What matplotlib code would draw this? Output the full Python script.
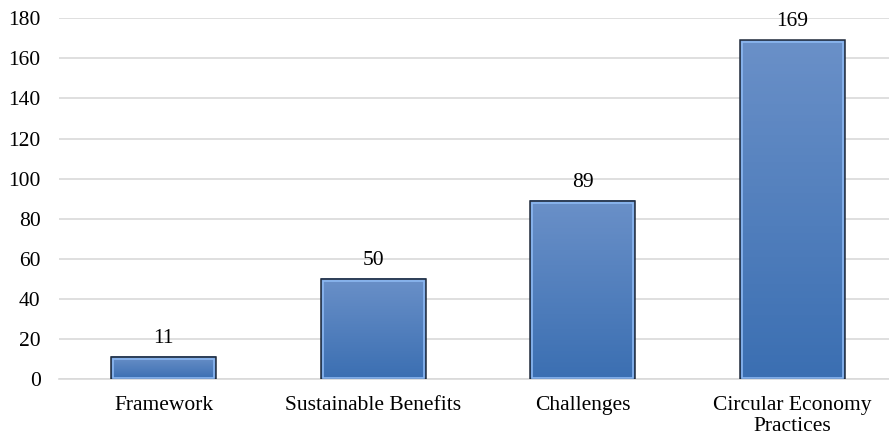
import matplotlib.pyplot as plt
import numpy as np
from matplotlib.colors import LinearSegmentedColormap

categories = ["Framework", "Sustainable Benefits", "Challenges", "Circular Economy\nPractices"]
values = [11, 50, 89, 169]
yticks = [0, 20, 40, 60, 80, 100, 120, 140, 160, 180]

plt.rcParams["font.family"] = ["Liberation Serif", "DejaVu Serif"]

fig = plt.figure(figsize=(8.89, 4.37), dpi=100)
ax = fig.add_axes([0.066, 0.133, 0.934, 0.825])

grad = LinearSegmentedColormap.from_list("g", ["#3b6fb2", "#6a90c8"])
width = 0.5
x = np.arange(len(categories))

for xi, v in zip(x, values):
    img = np.linspace(0, 1, 100).reshape(-1, 1)
    ax.imshow(img, cmap=grad, origin="lower", aspect="auto",
              extent=[xi - width / 2, xi + width / 2, 0, v], zorder=2)
    ax.bar(xi, v, width, facecolor="none", edgecolor="#1f2a3a", linewidth=1.1, zorder=3)
    ax.bar(xi, v - 1.2, width - 0.018, bottom=0.2, facecolor="none",
           edgecolor="#8cb8f2", linewidth=1.2, zorder=3)
    ax.text(xi, v + 4.5, str(v), ha="center", va="bottom", fontsize=15.5)

ax.set_xlim(-0.5, 3.46)
ax.set_ylim(0, 180)
ax.set_yticks(yticks)
ax.set_xticks(x)
ax.set_xticklabels(categories, fontsize=15.5, linespacing=1.15)
ax.tick_params(axis="y", labelsize=15.5, length=0, pad=13)
ax.tick_params(axis="x", length=0, pad=12)
ax.grid(axis="y", color="#d9d9d9", linewidth=1.2, zorder=0)
ax.set_axisbelow(True)
for s in ["top", "right", "left"]:
    ax.spines[s].set_visible(False)
ax.spines["bottom"].set_color("#d9d9d9")
ax.spines["bottom"].set_linewidth(1.2)
ax.spines["bottom"].set_zorder(0.5)

fig.savefig("out.png", dpi=100)
